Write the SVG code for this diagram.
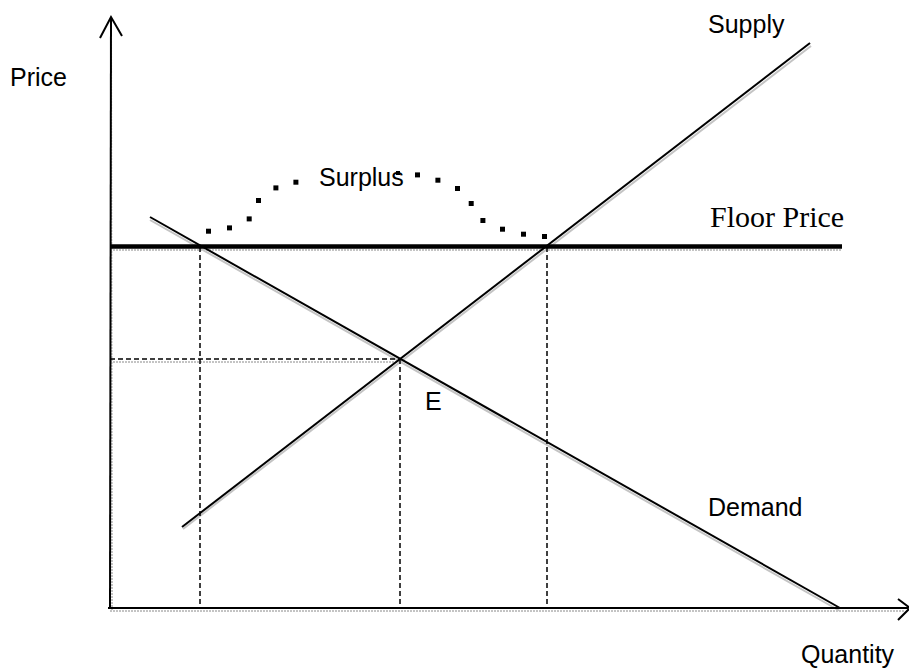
<svg xmlns="http://www.w3.org/2000/svg" width="909" height="669" viewBox="0 0 909 669">
<style>
.t{font-family:"Liberation Sans",Arial,sans-serif;font-size:25px;fill:#000}
.s{font-family:"Liberation Serif","Times New Roman",serif;font-size:30px;fill:#000}
.ln{stroke:#000;stroke-width:2;fill:none}
.sh{stroke:#c4c4c4;stroke-width:2;fill:none}
.dash{stroke:#000;stroke-width:1.5;stroke-dasharray:5,3;fill:none}
.dot{fill:#000}
</style>
<rect width="909" height="669" fill="#fff"/>
<g id="shadows">
<line class="sh" x1="111" y1="20" x2="112" y2="610" stroke-dasharray="2,1"/>
<line class="sh" x1="110" y1="611" x2="905" y2="611" stroke-dasharray="2,1"/>
<line class="sh" x1="110" y1="250" x2="842" y2="250" stroke-width="4" stroke-dasharray="2,1"/>
<line class="sh" x1="150" y1="220" x2="840" y2="611"/>
<line class="sh" x1="183" y1="529" x2="811" y2="46"/>
<line class="sh" x1="110" y1="362" x2="400" y2="362" stroke-dasharray="2,1"/>
</g>
<g id="axes">
<line class="ln" x1="110" y1="608" x2="111" y2="18"/>
<polyline class="ln" points="100,38 111,17 122,36"/>
<line class="ln" x1="108" y1="608" x2="908" y2="608"/>
<polyline class="ln" points="898,599 910,608 898,620"/>
</g>
<g id="floor-price">
<line x1="110" y1="246.5" x2="842" y2="246.5" stroke="#000" stroke-width="4.5"/>
</g>
<g id="demand">
<line class="ln" x1="150" y1="217" x2="840" y2="608"/>
</g>
<g id="supply">
<line class="ln" x1="182" y1="527" x2="810" y2="43"/>
</g>
<g id="connectors">
<line class="dash" x1="200" y1="247" x2="200" y2="608"/>
<line class="dash" x1="400" y1="359" x2="400" y2="608"/>
<line class="dash" x1="547" y1="247" x2="547" y2="608"/>
<line class="dash" x1="110" y1="359" x2="400" y2="359"/>
</g>
<g id="surplus-curve">
<rect class="dot" x="206" y="228.7" width="5" height="5"/>
<rect class="dot" x="227" y="225.4" width="5" height="5"/>
<rect class="dot" x="246.7" y="216.4" width="5" height="5"/>
<rect class="dot" x="256" y="198" width="5" height="5"/>
<rect class="dot" x="273.4" y="185.4" width="5" height="5"/>
<rect class="dot" x="293.4" y="179.7" width="5" height="5"/>
<rect class="dot" x="396" y="171" width="4" height="4"/>
<rect class="dot" x="415" y="172.4" width="5" height="5"/>
<rect class="dot" x="435.4" y="177.7" width="5" height="5"/>
<rect class="dot" x="455" y="186" width="5" height="5"/>
<rect class="dot" x="468.7" y="201" width="5" height="5"/>
<rect class="dot" x="480.4" y="218" width="5" height="5"/>
<rect class="dot" x="500" y="226.7" width="5" height="5"/>
<rect class="dot" x="521" y="231.7" width="5" height="5"/>
<rect class="dot" x="542" y="234" width="5" height="5"/>
</g>
<g id="labels">
<text class="t" x="10" y="86">Price</text>
<text class="t" x="708" y="33">Supply</text>
<text class="s" x="710" y="227">Floor Price</text>
<text class="t" x="319" y="186">Surplus</text>
<text class="t" x="425" y="410">E</text>
<text class="t" x="708" y="516">Demand</text>
<text class="t" x="801" y="663">Quantity</text>
</g>
</svg>
